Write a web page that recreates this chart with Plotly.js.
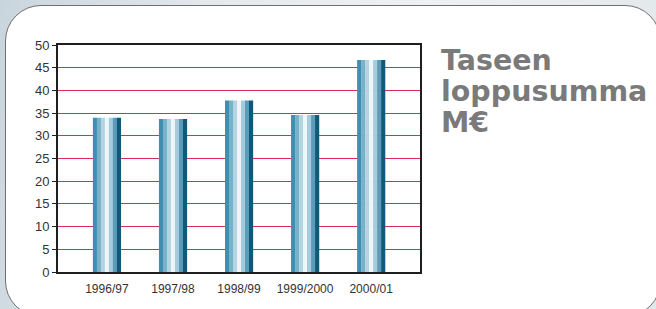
<!DOCTYPE html>
<html>
<head>
<meta charset="utf-8">
<script src="https://cdn.plot.ly/plotly-3.0.1.min.js"></script>
<style>
  html, body { margin: 0; padding: 0; }
  body {
    width: 656px; height: 309px; overflow: hidden; position: relative;
    background: linear-gradient(100deg, #c9d5dd 0%, #e4e9ed 30%, #eef1f3 60%, #e2e7ea 100%);
  }
  #frame {
    position: absolute; left: 5px; top: 5px; width: 656px; height: 312px;
    box-sizing: border-box; border: 1.5px solid #6f6f6f; border-radius: 36px;
    background: #ffffff;
  }
  #chart { position: absolute; left: 0; top: 0; width: 656px; height: 309px; }
</style>
</head>
<body>
<div id="frame"></div>
<div id="chart"></div>
<script>
// ---- data ----
const categories = ["1996/97", "1997/98", "1998/99", "1999/2000", "2000/01"];
const values = [34.0, 33.7, 37.8, 34.6, 46.7];
const yTicks = [0, 5, 10, 15, 20, 25, 30, 35, 40, 45, 50];
const titleLines = ["Taseen", "loppusumma", "M€"];

// ---- style: cylinder stripes (left to right) ----
const stripeColors = ['#3f8fb0', '#78b2ca', '#b3d5e3', '#eef6f9', '#a5cbdc', '#5c9cb8', '#11597a'];
const barWidth = 0.424;
const stripeW = barWidth / stripeColors.length;

const traces = stripeColors.map((c, i) => ({
  type: 'bar',
  x: categories,
  y: values,
  offset: -barWidth / 2 + i * stripeW,
  width: stripeW * 1.04,
  marker: { color: c, line: { width: 0 } },
  hoverinfo: 'skip',
  showlegend: false
}));

const xFont = { family: 'Liberation Sans, Arial, sans-serif', size: 12, color: '#333333' };
const yFont = { family: 'Liberation Sans, Arial, sans-serif', size: 13, color: '#333333' };
const titleFont = { family: 'DejaVu Sans, sans-serif', size: 28.5, color: '#7a7a7a', weight: 'bold' };

const layout = {
  width: 656, height: 309,
  margin: { l: 58, r: 236, t: 45, b: 37 },
  paper_bgcolor: 'rgba(0,0,0,0)',
  plot_bgcolor: 'rgba(0,0,0,0)',
  barmode: 'overlay',
  showlegend: false,
  hovermode: false,
  xaxis: {
    type: 'category',
    range: [-0.74, 4.74],
    showgrid: false,
    zeroline: false,
    showline: true, mirror: true, linecolor: '#1e1e1e', linewidth: 2,
    ticks: '',
    ticklabelstandoff: 5,
    tickfont: xFont,
    fixedrange: true
  },
  yaxis: {
    range: [0, 50],
    tickvals: yTicks,
    ticktext: yTicks.map(String),
    showgrid: true, gridcolor: '#d62e5a', gridwidth: 1,
    zeroline: false,
    showline: true, mirror: true, linecolor: '#1e1e1e', linewidth: 2,
    ticks: 'outside', ticklen: 4, tickcolor: '#1e1e1e', tickwidth: 1,
    tickfont: yFont,
    fixedrange: true
  },
  annotations: [{
    text: '<b>' + titleLines.join('<br>') + '</b>',
    xref: 'paper', yref: 'paper',
    x: 1.053, y: 1.012,
    xanchor: 'left', yanchor: 'top', align: 'left',
    showarrow: false,
    font: titleFont
  }]
};

Plotly.newPlot('chart', traces, layout, { displayModeBar: false, staticPlot: true }).then(() => {
  // tighten the title's line spacing to match the reference
  document.querySelectorAll('.annotation-text tspan.line').forEach((t, i) => {
    t.setAttribute('dy', (i * 1.08) + 'em');
  });
});
</script>
</body>
</html>
